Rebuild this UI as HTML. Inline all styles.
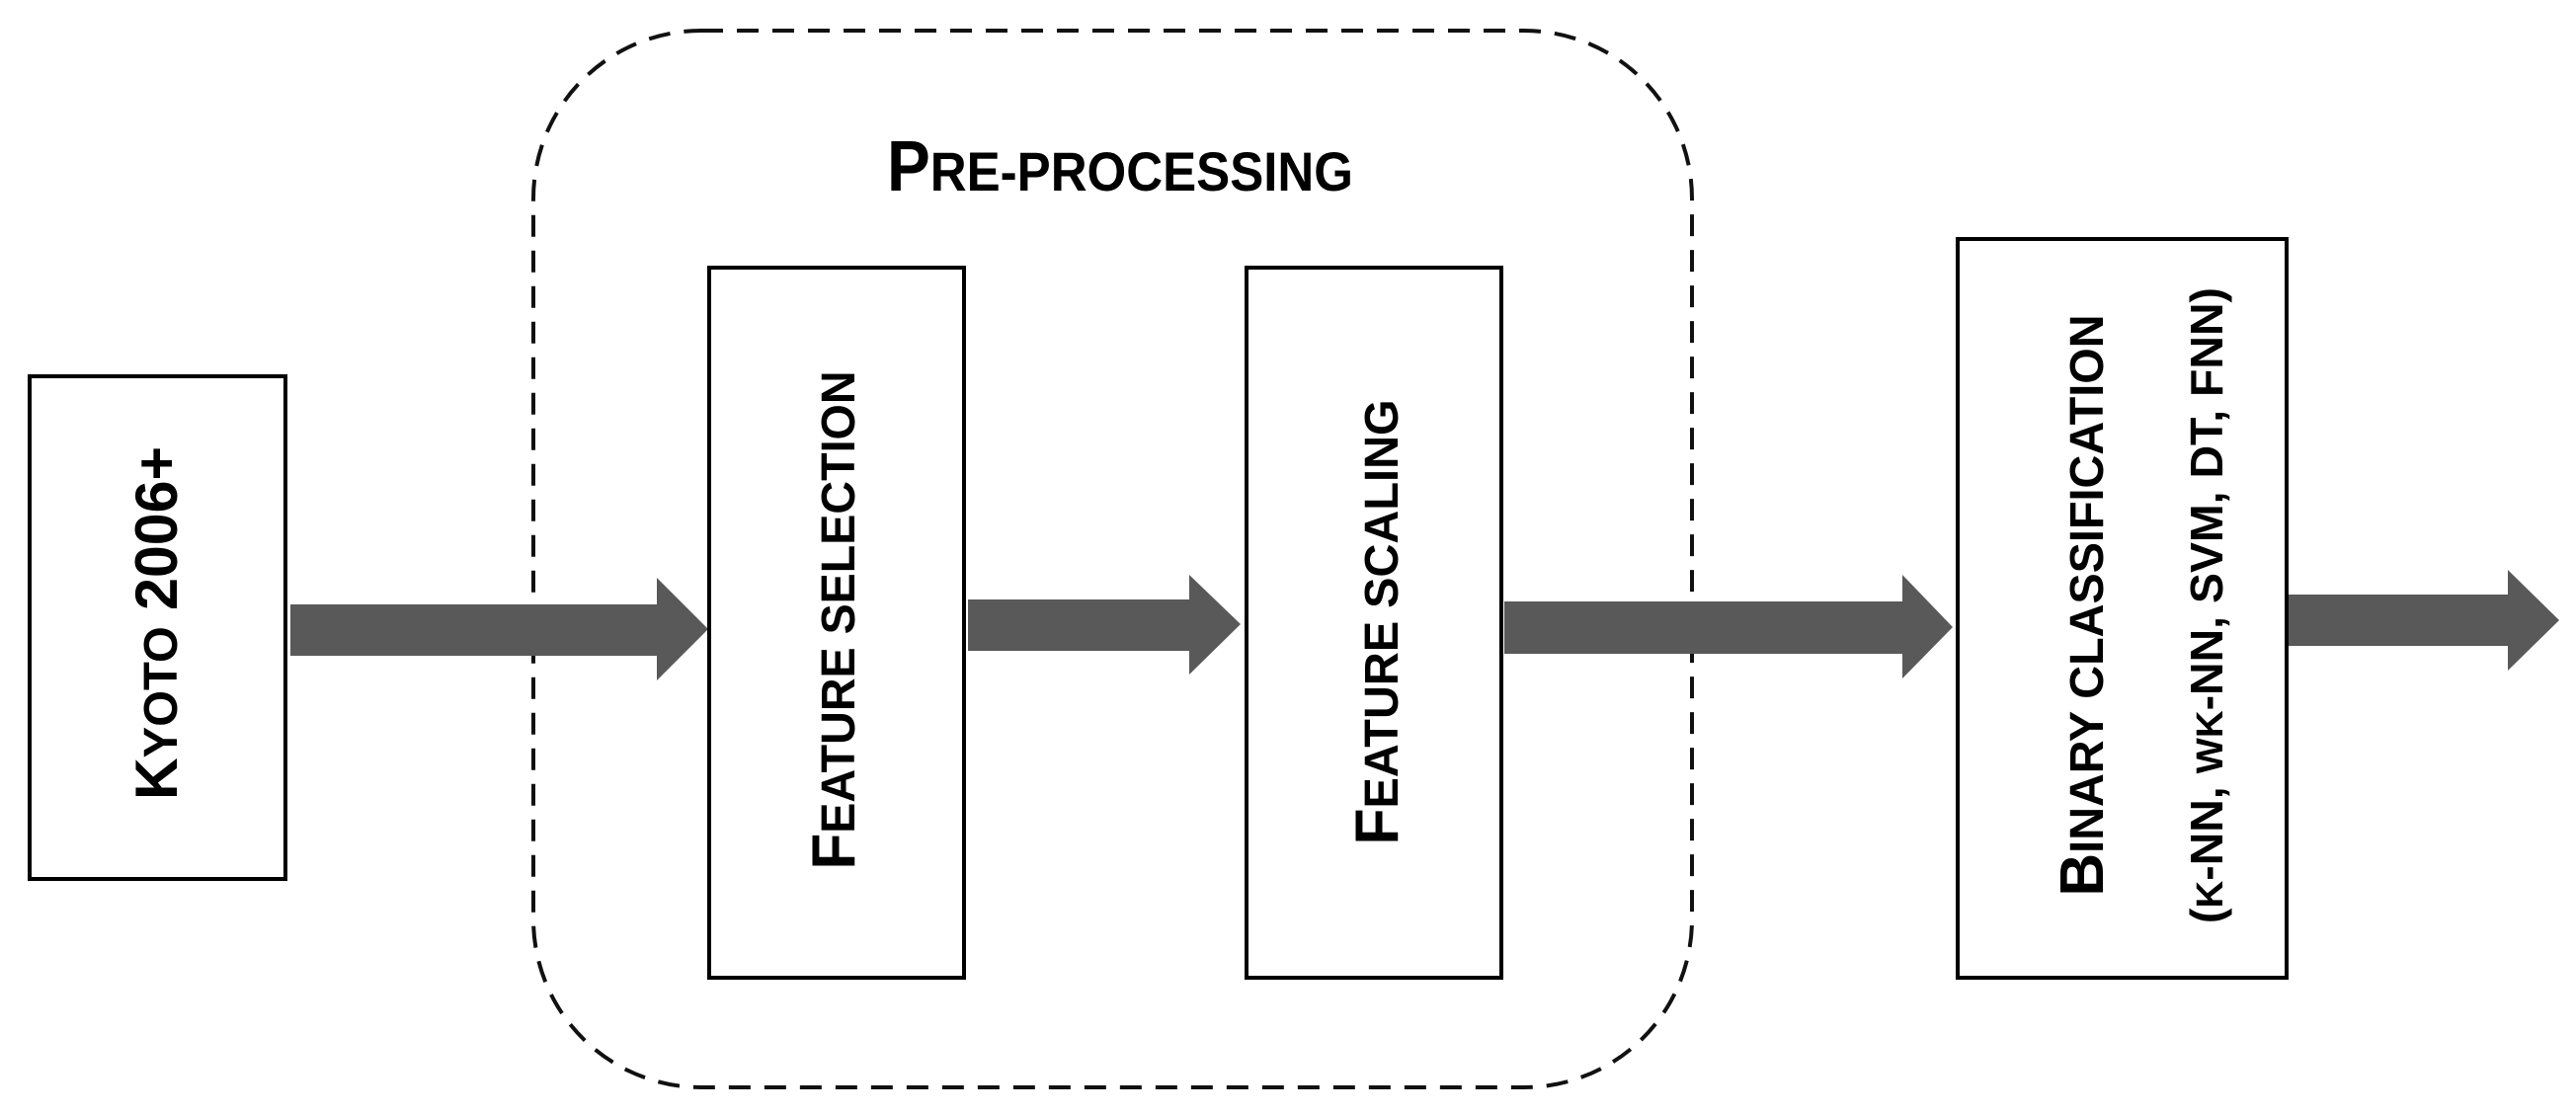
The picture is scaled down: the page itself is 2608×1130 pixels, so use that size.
<!DOCTYPE html>
<html><head><meta charset="utf-8"><style>html,body{margin:0;padding:0;background:#fff}svg{display:block}</style></head>
<body>
<svg width="2608" height="1130" viewBox="0 0 2608 1130" xmlns="http://www.w3.org/2000/svg" font-family="'Liberation Sans', Arial, sans-serif" font-weight="bold">
<rect x="540" y="31" width="1173" height="1070" rx="170" ry="170" fill="none" stroke="#111" stroke-width="4" stroke-dasharray="22,14"/>
<g fill="#595959">
<polygon points="294,612 665,612 665,585 717,637 665,689 665,664 294,664"/>
<polygon points="980,607 1204,607 1204,582 1256,632 1204,683 1204,659 980,659"/>
<polygon points="1523,609 1926,609 1926,582 1977,635 1926,687 1926,662 1523,662"/>
<polygon points="2317,602 2539,602 2539,577 2591,628 2539,679 2539,654 2317,654"/>
</g>
<g fill="#fff" stroke="#000" stroke-width="4">
<rect x="30" y="381" width="259" height="509"/>
<rect x="718" y="271" width="258" height="719"/>
<rect x="1262" y="271" width="258" height="719"/>
<rect x="1982" y="242" width="333" height="748"/>
</g>
<text x="898" y="193" font-size="72" textLength="472" lengthAdjust="spacingAndGlyphs">P<tspan font-size="56">RE-PROCESSING</tspan></text>
<text transform="translate(179,631) rotate(-90)" text-anchor="middle" font-size="60" textLength="358" lengthAdjust="spacingAndGlyphs">K<tspan font-size="48">YOTO</tspan> 2006+</text>
<text transform="translate(865,628) rotate(-90)" text-anchor="middle" font-size="62" textLength="505" lengthAdjust="spacingAndGlyphs">F<tspan font-size="48">EATURE SELECTION</tspan></text>
<text transform="translate(1415,630) rotate(-90)" text-anchor="middle" font-size="62" textLength="451" lengthAdjust="spacingAndGlyphs">F<tspan font-size="48">EATURE SCALING</tspan></text>
<text transform="translate(2129,613) rotate(-90)" text-anchor="middle" font-size="62" textLength="589" lengthAdjust="spacingAndGlyphs">B<tspan font-size="48">INARY CLASSIFICATION</tspan></text>
<text transform="translate(2250,613) rotate(-90)" text-anchor="middle" font-size="46" textLength="644" lengthAdjust="spacingAndGlyphs">(<tspan font-size="38">K</tspan>-NN, <tspan font-size="38">WK</tspan>-NN, SVM, DT, FNN)</text>
</svg>
</body></html>
